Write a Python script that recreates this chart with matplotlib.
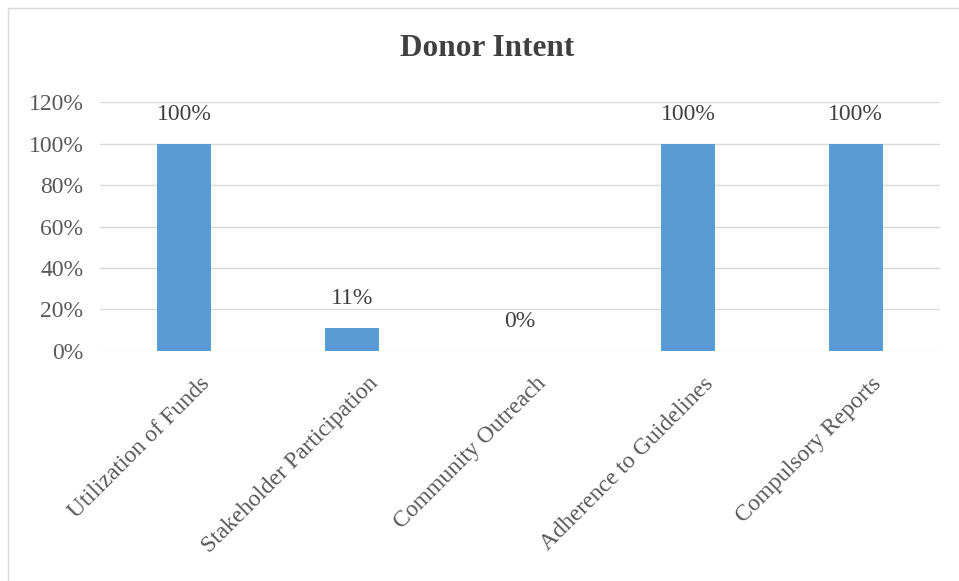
import matplotlib.pyplot as plt
import matplotlib.transforms as mtransforms
from matplotlib.lines import Line2D

categories = ['Utilization of Funds', 'Stakeholder Participation', 'Community Outreach',
              'Adherence to Guidelines', 'Compulsory Reports']
values = [100, 11, 0, 100, 100]
yticks = [0, 20, 40, 60, 80, 100, 120]

text_color = '#595959'
bar_color = '#5B9BD5'
plt.rcParams['font.family'] = ['Liberation Serif', 'DejaVu Serif']

fig = plt.figure(figsize=(9.59, 5.81), dpi=100)
ax = fig.add_axes([0.1043, 0.3959, 0.8757, 0.4285])

x = list(range(len(categories)))
bars = ax.bar(x, values, width=0.32, color=bar_color, zorder=3)

# value labels above each bar
for xi, v in zip(x, values):
    ax.annotate(f'{v}%', (xi, v), xytext=(0, 21), textcoords='offset points',
                ha='center', va='center', fontsize=17, color='#404040')

ax.set_xlim(-0.5, len(categories) - 0.5)
ax.set_ylim(0, 120)
ax.set_yticks(yticks)
ax.set_yticklabels([f'{t}%' for t in yticks], fontsize=17, color=text_color)
ax.set_xticks(x)
ax.set_xticklabels(categories, rotation=45, ha='right', rotation_mode='anchor',
                   fontsize=17, color=text_color)
ax.tick_params(axis='both', length=0)
ax.tick_params(axis='y', pad=12)
ax.tick_params(axis='x', pad=16)
# nudge the slanted category labels to the right
shift = mtransforms.ScaledTranslation(11 / 72, 0, fig.dpi_scale_trans)
for lbl in ax.get_xticklabels():
    lbl.set_transform(lbl.get_transform() + shift)
ax.grid(axis='y', color='#d9d9d9', linewidth=1, zorder=0)
for s in ax.spines.values():
    s.set_visible(False)

fig.text(0.508, 0.916, 'Donor Intent', ha='center', va='center',
         fontsize=22.5, fontweight='bold', color='#404040')

# thin frame on the left and top edges
fig.add_artist(Line2D([8 / 959, 8 / 959], [0, 1 - 8 / 581], transform=fig.transFigure,
                      color='#d9d9d9', linewidth=1))
fig.add_artist(Line2D([8 / 959, 1], [1 - 8 / 581, 1 - 8 / 581], transform=fig.transFigure,
                      color='#d9d9d9', linewidth=1))

fig.savefig('out.png', dpi=100)
